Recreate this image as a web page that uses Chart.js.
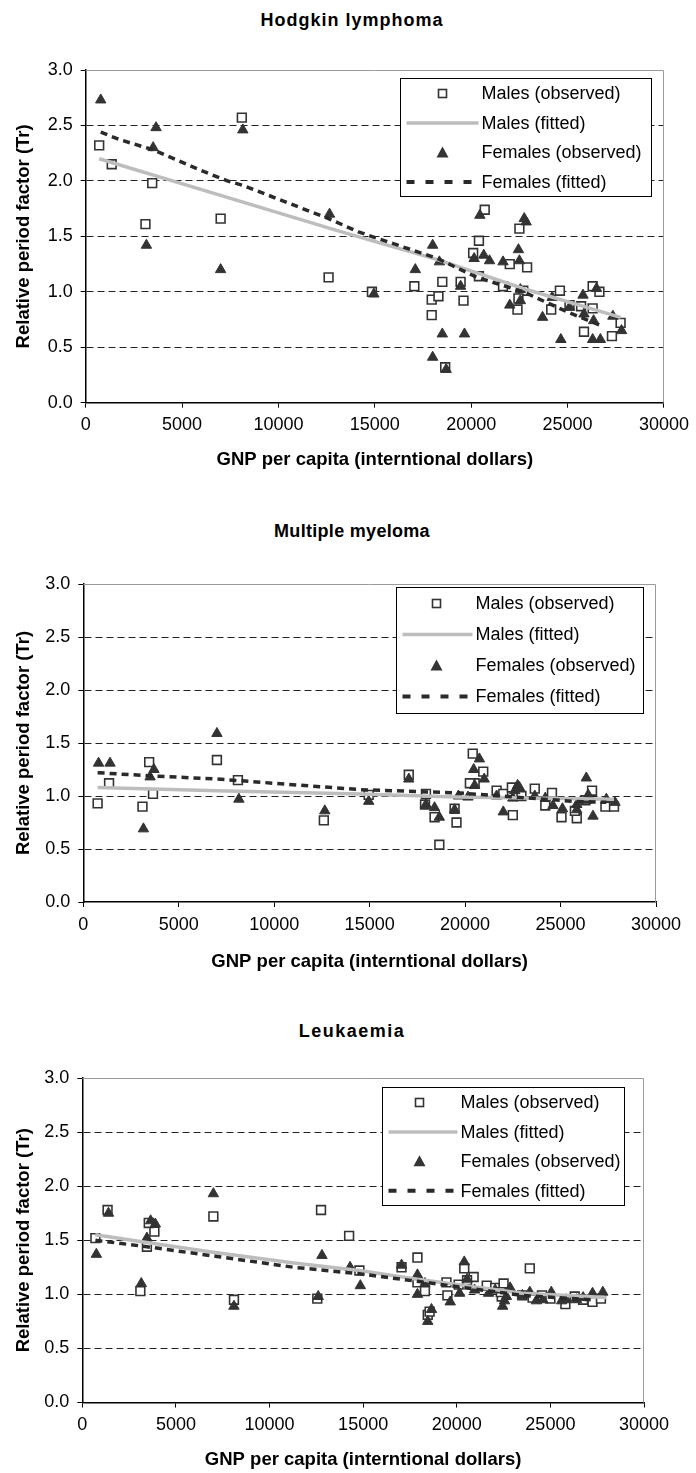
<!DOCTYPE html>
<html>
<head>
<meta charset="utf-8">
<script src="https://cdn.jsdelivr.net/npm/chart.js@4.4.1/dist/chart.umd.min.js"></script>
<style>
  body { margin: 0; background: #fff; }
  #page { position: relative; width: 696px; height: 1473px; overflow: hidden; }
  canvas { position: absolute; left: 0; }
  .title {
    position: absolute; left: 0; width: 704px; text-align: center;
    font: bold 18px "Liberation Sans", Arial, sans-serif; line-height: 22px;
    letter-spacing: 1px; color: #000;
  }
</style>
</head>
<body>
<div id="page">
  <div class="title" style="top:9px">Hodgkin lymphoma</div>
  <canvas id="c1" width="696" height="480" style="top:0px"></canvas>
  <div class="title" style="top:520px;letter-spacing:0.3px">Multiple myeloma</div>
  <canvas id="c2" width="696" height="490" style="top:490px"></canvas>
  <div class="title" style="top:1020px;letter-spacing:1.5px">Leukaemia</div>
  <canvas id="c3" width="696" height="493" style="top:980px"></canvas>
</div>
<script>
// axis ticks
const xTicks = [0, 5000, 10000, 15000, 20000, 25000, 30000];
const yTicks = [0, 0.5, 1.0, 1.5, 2.0, 2.5, 3.0];
const seriesLabels = ["Males (observed)", "Males (fitted)", "Females (observed)", "Females (fitted)"];

// Hodgkin lymphoma: [GNP per capita, Tr]
const hodgkinMales = [
  [700, 2.32], [1350, 2.15], [3450, 1.98], [3100, 1.61], [7000, 1.66], [8100, 2.57], [12600, 1.13],
  [14850, 1.00], [17050, 1.05], [17950, 0.93], [18300, 0.96], [17950, 0.79], [18500, 1.09], [19450, 1.09],
  [19600, 0.92], [18650, 0.32], [20700, 1.74], [22500, 1.57], [20400, 1.46], [20100, 1.35], [22000, 1.25],
  [22900, 1.22], [20400, 1.14], [21650, 1.05], [22700, 1.01], [22450, 0.94], [22400, 0.84], [24600, 1.01],
  [24150, 0.84], [25100, 0.88], [25700, 0.87], [26300, 1.05], [26650, 1.00], [26300, 0.85], [25850, 0.64],
  [27300, 0.60], [27750, 0.72]
];
const hodgkinMalesFit = [[700, 2.20], [7000, 1.87], [13100, 1.55], [18250, 1.29], [22700, 1.03], [27750, 0.77]];
const hodgkinFemales = [
  [780, 2.73], [3650, 2.48], [3500, 2.30], [3150, 1.42], [7000, 1.20], [8150, 2.46], [12650, 1.70],
  [14950, 0.98], [17100, 1.20], [18000, 1.42], [18350, 1.27], [18500, 0.62], [18000, 0.41], [18700, 0.30],
  [19450, 1.05], [19650, 0.62], [20450, 1.69], [20150, 1.30], [20650, 1.33], [20950, 1.28], [21650, 1.27],
  [22450, 1.38], [22500, 1.28], [22750, 1.66], [22850, 1.63], [22000, 0.88], [22550, 1.02], [22550, 0.92],
  [23700, 0.77], [24200, 0.95], [24650, 0.57], [25100, 0.86], [25800, 0.97], [25850, 0.80], [26350, 0.74],
  [26500, 1.03], [26300, 0.57], [26700, 0.57], [27350, 0.78], [27800, 0.65]
];
const hodgkinFemalesFit = [
  [780, 2.44], [1800, 2.37], [3500, 2.28], [5900, 2.10], [7350, 2.00], [8150, 1.96], [12600, 1.66],
  [14150, 1.54], [18250, 1.30], [20300, 1.13], [22700, 1.00], [25100, 0.81], [26800, 0.69]
];

// Multiple myeloma
const myelomaMales = [
  [750, 0.93], [1350, 1.12], [3100, 0.90], [3450, 1.32], [3650, 1.02], [7000, 1.34], [8100, 1.15],
  [12600, 0.77], [14950, 1.01], [17050, 1.20], [17950, 1.02], [17900, 0.92], [18400, 0.80], [19550, 0.75],
  [19450, 0.88], [18650, 0.54], [20400, 1.40], [20950, 1.23], [20500, 1.12], [20250, 1.12], [21650, 1.05],
  [22000, 1.02], [22500, 0.82], [22450, 1.08], [22950, 1.00], [23650, 1.07], [24200, 0.91], [24550, 1.03],
  [25050, 0.80], [25850, 0.79], [25750, 0.86], [26300, 0.96], [26650, 1.05], [27350, 0.90], [27800, 0.90]
];
const myelomaMalesFit = [[750, 1.08], [7000, 1.05], [14500, 1.02], [19550, 0.99], [27800, 0.97]];
const myelomaFemales = [
  [800, 1.31], [1400, 1.31], [3150, 0.69], [3500, 1.18], [3700, 1.25], [7000, 1.59], [8150, 0.97],
  [12650, 0.86], [14950, 0.95], [17050, 1.16], [17950, 0.92], [18400, 0.89], [18650, 0.80], [19450, 0.87],
  [19650, 1.00], [20150, 0.99], [20450, 1.25], [20750, 1.35], [20500, 1.10], [21000, 1.16], [21650, 1.00],
  [22000, 0.85], [22500, 0.98], [22600, 1.05], [22750, 1.10], [22850, 1.08], [23650, 1.00], [24200, 0.98],
  [24600, 0.91], [25100, 0.88], [25850, 0.92], [25850, 0.87], [26350, 1.17], [26400, 0.96], [26450, 1.01],
  [26700, 0.81], [27400, 0.97], [27850, 0.94]
];
const myelomaFemalesFit = [[750, 1.22], [3500, 1.19], [7000, 1.16], [14500, 1.06], [19550, 1.03], [25650, 0.95], [27400, 0.94]];

// Leukaemia
const leukMales = [
  [700, 1.52], [1350, 1.78], [3100, 1.03], [3450, 1.44], [3850, 1.58], [3550, 1.66], [7000, 1.72],
  [8100, 0.95], [12550, 0.96], [12750, 1.78], [14250, 1.54], [14800, 1.22], [17050, 1.25], [17900, 1.34],
  [17900, 1.11], [18300, 1.03], [18450, 0.81], [18550, 0.84], [19500, 0.99], [19450, 1.11], [20100, 1.09],
  [20400, 1.24], [20900, 1.16], [20550, 1.13], [21600, 1.08], [22050, 1.06], [22500, 1.10], [22400, 0.98],
  [22350, 1.02], [23900, 1.24], [23500, 0.99], [24050, 0.97], [24550, 0.99], [25000, 0.96], [25800, 0.91],
  [26300, 0.98], [26750, 0.95], [27250, 0.93], [27700, 0.96]
];
const leukMalesFit = [[700, 1.55], [3450, 1.48], [7000, 1.39], [11300, 1.29], [14800, 1.22], [17900, 1.14], [20900, 1.07], [23500, 1.01], [28000, 0.97]];
const leukFemales = [
  [750, 1.37], [1400, 1.75], [3150, 1.10], [3450, 1.52], [3650, 1.68], [3900, 1.65], [7000, 1.93],
  [8100, 0.89], [12600, 0.98], [12800, 1.36], [14300, 1.25], [14850, 1.08], [17050, 1.27], [17900, 1.18],
  [17900, 1.00], [18300, 1.10], [18450, 0.75], [18650, 0.86], [19650, 0.93], [20150, 1.01], [20400, 1.30],
  [20550, 1.14], [20950, 1.04], [21700, 1.01], [22050, 1.04], [22450, 0.89], [22550, 0.94], [22650, 0.98],
  [22850, 1.06], [23500, 0.99], [23900, 1.02], [24250, 0.94], [24600, 0.95], [25050, 1.02], [25600, 0.94],
  [25850, 0.95], [26400, 0.95], [26750, 0.97], [27250, 1.01], [27800, 1.02]
];
const leukFemalesFit = [[700, 1.50], [3450, 1.44], [7200, 1.35], [11300, 1.25], [14800, 1.19], [17900, 1.12], [23500, 0.99], [27200, 0.95]];

const FONT = '"Liberation Sans", Arial, sans-serif';
const toXY = (arr) => arr.map((p) => ({ x: p[0], y: p[1] }));

// gray frame on top and right of the plot area
const frame = {
  id: "frame",
  beforeDatasetsDraw(chart) {
    const { ctx, chartArea: a } = chart;
    ctx.save();
    ctx.strokeStyle = "#9a9a9a";
    ctx.lineWidth = 1;
    ctx.beginPath();
    ctx.moveTo(a.left, a.top + 0.5);
    ctx.lineTo(a.right - 0.5, a.top + 0.5);
    ctx.lineTo(a.right - 0.5, a.bottom);
    ctx.stroke();
    ctx.restore();
  },
};

// legend drawn inside the plot, with a box round it
const boxLegend = {
  id: "boxLegend",
  afterDatasetsDraw(chart, args, o) {
    const { ctx, chartArea: a } = chart;
    const x0 = Math.round(a.right - o.right - o.width) + 0.5;
    const y0 = Math.round(a.top + o.top) + 0.5;
    ctx.save();
    ctx.fillStyle = "#fff";
    ctx.fillRect(x0, y0, o.width, o.height);
    ctx.strokeStyle = "#000";
    ctx.lineWidth = 1;
    ctx.strokeRect(x0, y0, o.width, o.height);
    ctx.font = "18px " + FONT;
    ctx.textBaseline = "middle";
    chart.data.datasets.forEach((ds, i) => {
      const cy = y0 + o.firstRow + i * o.rowGap;
      const mx = x0 + o.markerX;
      if (ds.showLine) {
        ctx.strokeStyle = ds.borderColor;
        ctx.lineWidth = i === 3 ? 4 : 3.5;
        ctx.setLineDash(i === 3 ? [8, 11] : []);
        ctx.beginPath();
        ctx.moveTo(x0 + 6, cy);
        ctx.lineTo(x0 + o.textX - 3, cy);
        ctx.stroke();
        ctx.setLineDash([]);
      } else if (ds.pointStyle === "rect") {
        ctx.fillStyle = "#fff";
        ctx.strokeStyle = "#333";
        ctx.lineWidth = 1.6;
        ctx.fillRect(mx - 4, cy - 4, 8, 8);
        ctx.strokeRect(mx - 4, cy - 4, 8, 8);
      } else {
        ctx.fillStyle = "#333";
        ctx.beginPath();
        ctx.moveTo(mx, cy - 6);
        ctx.lineTo(mx + 6, cy + 5);
        ctx.lineTo(mx - 6, cy + 5);
        ctx.closePath();
        ctx.fill();
      }
      ctx.fillStyle = "#000";
      ctx.fillText(ds.label, x0 + o.textX, cy + 1);
    });
    ctx.restore();
  },
};

function makeChart(id, males, malesFit, females, femalesFit, box) {
  new Chart(document.getElementById(id), {
    type: "scatter",
    data: {
      datasets: [
        {
          label: seriesLabels[0], data: toXY(males), pointStyle: "rect", pointRadius: 6.2,
          backgroundColor: "#fff", borderColor: "#333", borderWidth: 1.6, order: 4,
        },
        {
          label: seriesLabels[1], data: toXY(malesFit), showLine: true, pointRadius: 0,
          borderColor: "#bdbdbd", borderWidth: 3.5, order: 2,
        },
        {
          label: seriesLabels[2], data: toXY(females), pointStyle: "triangle", pointRadius: 6,
          backgroundColor: "#333", borderColor: "#333", borderWidth: 1, order: 3,
        },
        {
          label: seriesLabels[3], data: toXY(femalesFit), showLine: true, pointRadius: 0,
          borderColor: "#2a2a2a", borderWidth: 3.5, borderDash: [7, 5], order: 1,
        },
      ],
    },
    options: {
      responsive: false,
      animation: false,
      devicePixelRatio: 1,
      layout: { padding: { left: 0, top: box.plotTop, right: box.padRight, bottom: 0 } },
      plugins: {
        legend: { display: false },
        tooltip: { enabled: false },
        boxLegend: box.legend,
      },
      scales: {
        x: {
          type: "linear",
          min: xTicks[0],
          max: xTicks[xTicks.length - 1],
          afterBuildTicks: (s) => { s.ticks = xTicks.map((v) => ({ value: v })); },
          afterFit: (s) => { s.height = box.xHeight; },
          ticks: { color: "#000", font: { family: FONT, size: 18 }, padding: 7, callback: (v) => String(v) },
          grid: { drawOnChartArea: false, drawTicks: true, tickLength: 5, tickColor: "#000" },
          border: { color: "#000", width: 1.5 },
          title: {
            display: true, text: "GNP per capita (interntional dollars)", color: "#000",
            font: { family: FONT, size: 18.5, weight: "bold" }, padding: { top: 0, bottom: box.xTitlePad },
          },
        },
        y: {
          type: "linear",
          min: yTicks[0],
          max: yTicks[yTicks.length - 1],
          afterBuildTicks: (s) => { s.ticks = yTicks.map((v) => ({ value: v })); },
          afterFit: (s) => { s.width = box.plotLeft; },
          ticks: { color: "#000", font: { family: FONT, size: 18 }, padding: 8, callback: (v) => v.toFixed(1) },
          grid: {
            color: (c) => (c.tick && (c.tick.value === 0 || c.tick.value === 3) ? "rgba(0,0,0,0)" : "#222"),
            lineWidth: 1, tickLength: 5, tickColor: "#000",
          },
          border: { color: "#000", width: 1.5, dash: [7, 4] },
          title: {
            display: true, text: "Relative period factor (Tr)", color: "#000",
            font: { family: FONT, size: 18.5, weight: "bold" }, padding: { top: 13, bottom: 0 },
          },
        },
      },
    },
    plugins: [frame, boxLegend],
  });
}

makeChart("c1", hodgkinMales, hodgkinMalesFit, hodgkinFemales, hodgkinFemalesFit, {
  plotTop: 70, plotLeft: 85.7, padRight: 28, xHeight: 77.3, xTitlePad: 9,
  legend: { right: 13, top: 8, width: 251, height: 118, firstRow: 15, rowGap: 29.5, markerX: 42, textX: 81 },
});
makeChart("c2", myelomaMales, myelomaMalesFit, myelomaFemales, myelomaFemalesFit, {
  plotTop: 94, plotLeft: 83.3, padRight: 40, xHeight: 78, xTitlePad: 7,
  legend: { right: 13, top: 3, width: 247, height: 126, firstRow: 16, rowGap: 31, markerX: 40, textX: 79 },
});
makeChart("c3", leukMales, leukMalesFit, leukFemales, leukFemalesFit, {
  plotTop: 98, plotLeft: 82.3, padRight: 52, xHeight: 70.5, xTitlePad: 2,
  legend: { right: 20, top: 9, width: 242, height: 118, firstRow: 15, rowGap: 29.4, markerX: 37, textX: 78 },
});
</script>
</body>
</html>
